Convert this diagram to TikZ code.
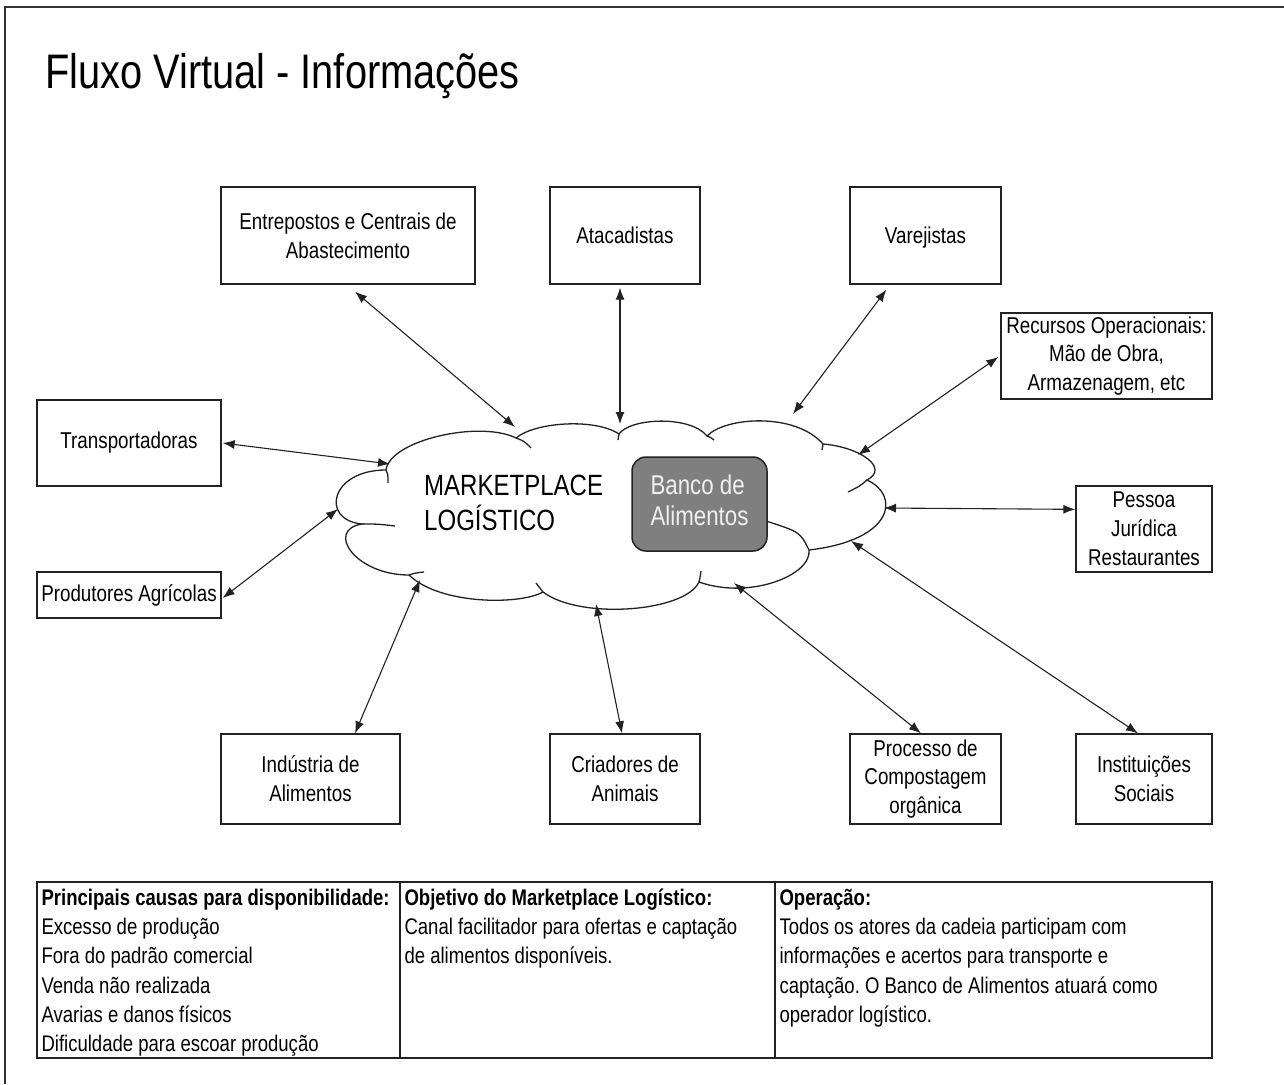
\documentclass[tikz,border=0pt]{standalone}
\usepackage{fontspec}
\setmainfont[FakeStretch=0.82]{Liberation Sans}
\usetikzlibrary{arrows.meta}
\frenchspacing
\newcommand\bxfont{\fontsize{22.9}{28.8}\selectfont}
\newcommand\tbfont{\fontsize{22.6}{29.3}\selectfont}
\definecolor{lineclr}{HTML}{222222}
\definecolor{bancofill}{HTML}{7F7F7F}
\begin{document}
\begin{tikzpicture}[x=1pt,y=-1pt,
  box/.style={draw=lineclr, line width=1.3pt, fill=white, align=center, inner sep=0pt, font=\bxfont},
  cellbox/.style={draw=lineclr, line width=1.3pt, inner sep=0pt},
  celltext/.style={anchor=base west, align=left, inner sep=0pt, font=\tbfont},
  arr/.style={draw=lineclr, line width=1.1pt, {Latex[length=12pt,width=9pt]}-{Latex[length=12pt,width=9pt]}},
  cloudline/.style={draw=lineclr, line width=1.3pt},
  frameline/.style={draw=black!80, line width=2.6pt}
]
\useasboundingbox (0,0) rectangle (1284,1084);
\fill[white] (0,0) rectangle (1284,1084);
\draw[frameline] (1284,7) -- (5,7) -- (5,1084);

% title
\node[anchor=base west, inner sep=0pt, font=\fontsize{48.5}{58}\selectfont] (title) at (45,88) {Fluxo Virtual - Informações};

% cloud
\draw[cloudline, fill=white] (386,470)
  .. controls (390,440) and (480,420) .. (516,438)
  .. controls (535,422) and (595,418) .. (619,434)
  .. controls (630,418) and (690,415) .. (707,436)
  .. controls (725,417) and (795,412) .. (823,444)
  .. controls (860,447) and (890,468) .. (867,480)
  .. controls (900,495) and (895,540) .. (809,550)
  .. controls (812,575) and (750,600) .. (699,582)
  .. controls (685,612) and (580,620) .. (543,592)
  .. controls (520,605) and (440,605) .. (409,575)
  .. controls (355,575) and (325,530) .. (362,524)
  .. controls (320,520) and (330,470) .. (386,470) -- cycle;
\draw[cloudline] (386,470) .. controls (388,474) .. (388,483);
\draw[cloudline] (516,438) .. controls (524,441) .. (531,448);
\draw[cloudline] (619,434) -- (618,440);
\draw[cloudline] (707,436) .. controls (710,437) .. (714,440);
\draw[cloudline] (823,444) -- (822,450);
\draw[cloudline] (867,480) .. controls (860,486) .. (848,492);
\draw[cloudline] (809,550) .. controls (800,532) .. (766,521);
\draw[cloudline] (699,582) .. controls (700,578) .. (701,571);
\draw[cloudline] (543,592) .. controls (540,588) .. (536,583);
\draw[cloudline] (409,575) .. controls (415,573) .. (424,572);
\draw[cloudline] (362,524) .. controls (378,524) .. (395,526);

\node[anchor=base west, align=left, inner sep=0pt, font=\fontsize{29.3}{35}\selectfont] (mkt) at (424,530.5) {MARKETPLACE\\LOGÍSTICO};
\node[draw=lineclr, line width=1.5pt, fill=bancofill, rounded corners=14pt, minimum width=135pt, minimum height=94pt, inner sep=0pt, text depth=8pt, text=white!94!black, align=left, font=\fontsize{27.2}{30.5}\selectfont] (banco) at (699.5,504) {Banco de\\Alimentos};

% cloud connection points
\coordinate (k1) at (515,427);
\coordinate (k2) at (620,424);
\coordinate (k3) at (793,414);
\coordinate (k4) at (858,455);
\coordinate (k5) at (390,464);
\coordinate (k6) at (338,509);
\coordinate (k7) at (884,508);
\coordinate (k8) at (851,541);
\coordinate (k9) at (734,583);
\coordinate (k10) at (596,604);
\coordinate (k11) at (420,580);

% boxes
\node[box, minimum width=254pt, minimum height=97pt] (entre) at (348,235.5) {Entrepostos e Centrais de\\Abastecimento};
\node[box, minimum width=150pt, minimum height=97pt] (ataca) at (625,235.5) {Atacadistas};
\node[box, minimum width=151pt, minimum height=97pt, text depth=0pt] (varej) at (925.5,235.5) {Varejistas};
\node[box, minimum width=211pt, minimum height=86pt] (recur) at (1106.5,356) {Recursos Operacionais:\\Mão de Obra,\\Armazenagem, etc};
\node[box, minimum width=184pt, minimum height=86pt] (transp) at (129,443) {Transportadoras};
\node[box, minimum width=184pt, minimum height=46pt] (produt) at (129,595) {Produtores Agrícolas};
\node[box, minimum width=136pt, minimum height=86pt] (pessoa) at (1144,529) {Pessoa\\Jurídica\\Restaurantes};
\node[box, minimum width=179pt, minimum height=90pt] (indust) at (310.5,779) {Indústria de\\Alimentos};
\node[box, minimum width=150pt, minimum height=90pt] (criad) at (625,779) {Criadores de\\Animais};
\node[box, minimum width=151pt, minimum height=90pt] (proces) at (925.5,779) {Processo de\\Compostagem\\orgânica};
\node[box, minimum width=136pt, minimum height=90pt] (instit) at (1144,779) {Instituições\\Sociais};

% connectors
\draw[arr] ([shift={(7,7)}]entre.south) -- (k1);
\draw[arr] ([shift={(-5,3)}]ataca.south) -- (k2);
\draw[arr] ([shift={(37,5)}]varej.south west) -- (k3);
\draw[arr] ([shift={(-2,1)}]recur.west) -- (k4);
\draw[arr] ([shift={(1,0)}]transp.east) -- (k5);
\draw[arr] ([shift={(1,3)}]produt.east) -- (k6);
\draw[arr] ([shift={(0,24)}]pessoa.north west) -- (k7);
\draw[arr] ([shift={(-6,0)}]instit.north) -- (k8);
\draw[arr] ([shift={(-4.5,0)}]proces.north) -- (k9);
\draw[arr] ([shift={(-3,0)}]criad.north) -- (k10);
\draw[arr] ([shift={(44.5,0)}]indust.north) -- (k11);

% table
\node[cellbox, minimum width=363pt, minimum height=176pt] (c1) at (218.5,970) {};
\node[cellbox, minimum width=375pt, minimum height=176pt] (c2) at (587.5,970) {};
\node[cellbox, minimum width=437pt, minimum height=176pt] (c3) at (993.5,970) {};
\node[celltext] (t1) at ([shift={(5,170.5)}]c1.north west) {\textbf{Principais causas para disponibilidade:}\\Excesso de produção\\Fora do padrão comercial\\Venda não realizada\\Avarias e danos físicos\\Dificuldade para escoar produção};
\node[celltext] (t2) at ([shift={(5,82.6)}]c2.north west) {\textbf{Objetivo do Marketplace Logístico:}\\Canal facilitador para ofertas e captação\\de alimentos disponíveis.};
\node[celltext] (t3) at ([shift={(5,141.2)}]c3.north west) {\textbf{Operação:}\\Todos os atores da cadeia participam com\\informações e acertos para transporte e\\captação. O Banco de Alimentos atuará como\\operador logístico.};
\end{tikzpicture}
\end{document}
